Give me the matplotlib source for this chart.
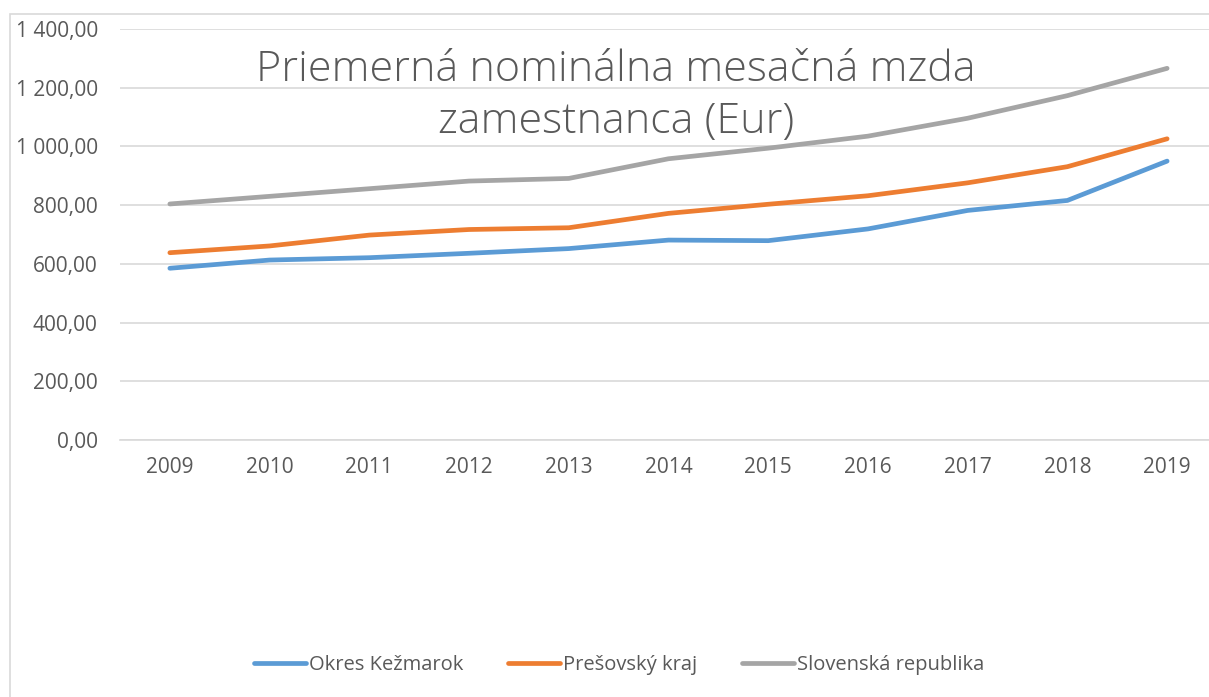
#!/usr/bin/env python3
"""Priemerna nominalna mesacna mzda - line chart recreation."""

import matplotlib
matplotlib.use("Agg")
import matplotlib.pyplot as plt
from matplotlib.ticker import FuncFormatter, MultipleLocator
from matplotlib.patches import Rectangle

# data
years = ["2009", "2010", "2011", "2012", "2013", "2014",
         "2015", "2016", "2017", "2018", "2019"]
kezmarok = [585, 613, 621, 636, 652, 681, 679, 719, 782, 816, 950]
presov = [638, 661, 698, 717, 723, 772, 803, 832, 876, 931, 1026]
slovensko = [804, 830, 856, 882, 891, 958, 994, 1035, 1096, 1173, 1266]
series_names = ["Okres Kežmarok", "Prešovský kraj", "Slovenská republika"]

colors = ["#5b9bd5", "#ed7d31", "#a5a5a5"]
text_color = "#595959"
grid_color = "#d9d9d9"

plt.rcParams['font.family'] = ['Open Sans', 'DejaVu Sans']

W, H = 1209, 697
fig = plt.figure(figsize=(W / 100, H / 100), dpi=100)

# chart-area border (only left and top edges visible in the crop)
fig.patches.append(Rectangle((10 / W, -0.1), 1.2, 1 - 14 / H + 0.1,
                             transform=fig.transFigure, fill=False,
                             edgecolor=grid_color, linewidth=1.2))

ax = fig.add_axes([120 / W, 1 - 440 / H, (W - 120) / W, 411 / H])
x = list(range(len(years)))
for vals, name, col in zip([kezmarok, presov, slovensko], series_names, colors):
    ax.plot(x, vals, color=col, linewidth=3.4, solid_capstyle="round",
            label=name)

ax.set_ylim(0, 1400)
ax.set_xlim(-0.5, 10.42)
ax.yaxis.set_major_locator(MultipleLocator(200))


def sk_fmt(v, pos):
    return f"{v:,.2f}".replace(",", " ").replace(".", ",")


ax.yaxis.set_major_formatter(FuncFormatter(sk_fmt))
ax.set_xticks(x)
ax.set_xticklabels(years)
ax.tick_params(axis="both", length=0, labelsize=15, colors=text_color)
ax.tick_params(axis="x", pad=12)
ax.tick_params(axis="y", pad=16)
ax.grid(axis="y", color=grid_color, linewidth=1.2)
ax.set_axisbelow(True)
for side in ["top", "right", "left"]:
    ax.spines[side].set_visible(False)
ax.spines["bottom"].set_color(grid_color)
ax.spines["bottom"].set_linewidth(1.2)

fig.text(616 / W, 1 - 96 / H, "Priemerná nominálna mesačná mzda\nzamestnanca (Eur)",
         ha="center", va="center", fontsize=31, color=text_color,
         fontweight="light", linespacing=1.3)

leg = fig.legend(loc="center", bbox_to_anchor=(619 / W, 1 - 665 / H), ncol=3,
                 frameon=False, fontsize=14.5, handlelength=2.6,
                 handletextpad=0.15, columnspacing=2.2)
for t in leg.get_texts():
    t.set_color(text_color)

fig.savefig("out.png", dpi=100)
